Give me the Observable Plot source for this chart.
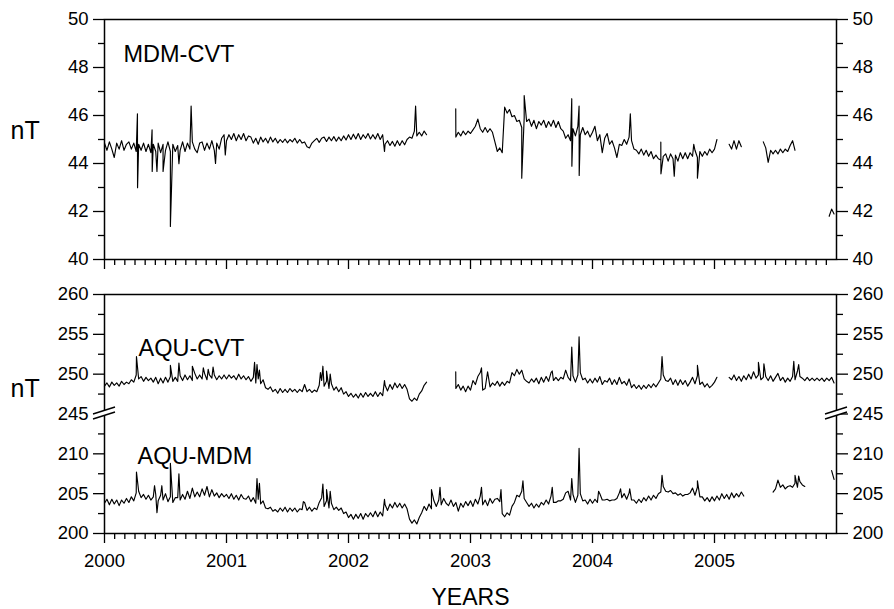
<!DOCTYPE html>
<html><head><meta charset="utf-8">
<script src="https://cdn.jsdelivr.net/npm/d3@7"></script>
<script src="https://cdn.jsdelivr.net/npm/@observablehq/plot@0.6"></script>
<style>
body{margin:0;background:#fff;}
#wrap{position:relative;width:894px;height:609px;overflow:hidden;background:#fff;}
#wrap svg{position:absolute;left:0;}
</style></head><body><div id="wrap"></div>
<script>
// ---- data (decimal years, regular step of 0.02 yr starting 2000.0; null = gap) ----
const START = 2000, STEP = 0.02;
const N = null;
const mdmCvt = [
44.85,44.55,44.9,44.6,44.25,44.85,44.6,44.95,44.55,44.8,
44.9,44.6,44.85,44.5,44.8,44.55,44.85,44.5,44.8,44.45,
44.8,44.5,44.85,44.45,44.8,44.55,44.9,44.5,44.8,44.5,
44.75,44.55,44.9,44.5,44.85,44.6,44.9,44.6,44.45,44.85,
44.9,44.55,44.85,44.6,44.95,44.55,44.85,44.6,45.05,45.2,
44.95,45.2,45.0,45.25,44.95,45.2,45.0,45.25,44.95,45.15,
45.1,44.85,45.05,44.8,45.1,44.9,45.05,44.85,45.1,44.9,
45.05,44.85,45.0,44.88,45.02,44.86,45.0,44.9,45.05,44.85,
45.0,44.85,44.9,44.7,44.65,44.85,44.95,45.05,44.88,45.05,
45.1,44.92,45.1,44.95,45.12,44.93,45.1,44.95,45.15,44.98,
45.2,45.0,45.22,45.02,45.25,45.0,45.2,45.05,45.25,45.02,
45.2,45.02,45.25,45.0,45.2,44.8,44.95,44.75,44.92,44.72,
44.95,44.75,44.95,44.78,45.0,45.1,45.05,45.35,45.15,45.3,
45.15,45.35,45.2,N,N,N,N,N,N,N,
N,N,N,N,45.1,45.3,45.15,45.35,45.2,45.35,
45.25,45.4,45.55,45.85,45.45,45.3,45.5,45.3,45.45,45.3,
44.9,44.5,44.65,44.45,46.35,46.1,46.25,45.95,46.0,45.75,
45.8,45.5,45.9,45.75,45.85,45.55,45.8,45.45,45.75,45.6,
45.8,45.5,45.75,45.55,45.8,45.5,45.75,45.45,45.35,45.05,
45.2,44.95,45.45,45.15,45.55,45.2,45.5,45.2,45.35,45.1,
45.3,45.55,44.95,45.2,44.45,45.05,45.25,44.8,44.95,44.65,
44.25,44.8,44.75,45.0,44.8,45.1,44.95,44.6,44.55,44.4,
44.6,44.35,44.55,44.3,44.5,44.2,44.35,44.2,44.15,44.3,
44.4,44.1,44.4,44.2,44.35,44.1,44.45,44.2,44.45,44.2,
44.45,44.3,44.55,44.25,44.5,44.3,44.5,44.35,44.6,44.45,
44.6,45.0,N,N,N,N,44.8,44.6,44.95,44.6,
44.95,44.7,N,N,N,N,N,N,N,N,
44.9,44.65,44.05,44.55,44.4,44.55,44.4,44.6,44.45,44.6,
44.5,44.75,44.95,44.55,N,N,N,N,N,N,
N,N,N,N,N,N,N,41.8,42.1,41.9
];
const mdmCvtSpikes = [
[2000.27,46.07],[2000.271,42.99],[2000.39,45.4],[2000.391,43.67],[2000.43,43.67],
[2000.48,43.67],[2000.54,41.38],[2000.61,43.99],[2000.71,46.39],[2000.91,44.0],
[2000.99,44.36],[2002.295,44.5],[2002.55,46.39],[2002.879,46.28],[2003.42,43.39],
[2003.44,46.83],[2003.83,46.7],[2003.831,43.89],[2003.89,46.39],[2003.891,43.5],
[2004.31,46.07],[2004.56,44.89],[2004.561,43.57],[2004.67,43.47],[2004.83,44.8],
[2004.86,43.39]
];
const aquCvt = [
248.5,248.9,248.4,249.0,248.6,248.9,248.5,249.1,248.7,249.0,
248.8,249.3,249.0,249.9,249.4,249.7,249.1,249.6,249.2,249.5,
249.0,249.6,248.8,249.5,248.9,249.6,249.0,249.7,249.1,249.6,
249.1,249.8,249.2,249.9,249.3,249.8,249.2,250.1,249.4,249.9,
249.4,250.1,249.3,249.9,249.5,249.9,249.3,249.8,249.4,249.9,
249.4,249.9,249.5,249.8,249.3,250.0,249.4,249.8,249.3,249.7,
249.1,249.6,248.9,249.4,248.8,249.3,248.3,248.1,248.4,247.8,
248.1,247.6,248.2,247.7,248.1,247.7,248.2,247.8,248.1,247.7,
248.1,247.8,248.7,247.8,248.1,247.7,248.0,247.8,248.6,249.2,
248.5,249.1,248.2,248.8,248.0,248.4,247.8,248.3,247.5,247.8,
247.2,247.6,247.1,247.5,247.0,247.6,247.1,247.7,247.2,247.6,
247.2,247.8,247.2,247.7,247.3,248.6,247.9,248.7,248.1,248.9,
248.3,248.8,248.2,248.7,248.1,246.9,246.6,247.0,246.7,247.5,
247.9,248.6,249.0,N,N,N,N,N,N,N,
N,N,N,N,248.2,248.7,248.0,248.5,247.8,248.5,
248.0,249.2,248.7,249.7,250.2,248.0,248.2,250.3,248.4,248.9,
248.6,249.1,248.5,249.0,248.6,249.1,248.9,250.2,249.8,250.6,
250.0,250.5,249.4,249.1,248.9,249.4,249.0,249.5,248.8,249.6,
249.0,249.7,249.1,250.2,249.2,249.6,249.2,249.6,249.4,250.5,
249.6,249.2,249.8,249.0,249.9,250.2,249.3,249.5,248.9,249.4,
248.9,249.5,249.0,249.7,248.7,249.2,249.0,249.5,248.7,249.3,
248.7,249.6,248.8,249.1,248.6,249.4,248.3,248.7,248.2,248.6,
248.1,248.6,248.2,248.7,248.3,248.8,248.4,248.9,249.4,249.9,
249.2,249.1,249.5,248.7,249.3,248.6,249.3,248.7,249.2,248.5,
249.0,249.6,248.8,249.8,248.7,249.0,248.4,248.8,248.3,248.6,
249.0,249.6,N,N,N,N,249.6,249.3,249.9,249.2,
249.7,249.1,249.8,249.3,250.0,249.4,250.3,249.5,249.9,249.3,
249.6,249.7,249.2,249.8,249.1,249.6,250.1,249.2,249.6,249.0,
249.5,249.1,249.7,249.3,250.4,249.7,249.5,249.2,249.6,249.2,
249.5,249.2,249.5,249.2,249.5,249.1,249.5,249.2,249.6,248.9
];
const aquCvtSpikes = [
[2000.262,252.2],[2000.54,251.1],[2000.61,251.4],[2000.72,251.0],[2000.81,250.8],
[2000.85,250.6],[2000.89,250.9],[2001.23,251.5],[2001.25,251.2],[2001.27,250.5],
[2001.77,250.2],[2001.79,251.0],[2001.82,250.4],[2001.85,250.0],[2002.295,249.2],
[2002.879,250.3],[2003.09,250.8],[2003.67,250.4],[2003.83,253.4],[2003.89,254.7],
[2004.57,252.2],[2004.86,251.1],[2005.36,251.5],[2005.405,251.3],[2005.65,251.6],
[2005.69,251.2]
];
const aquMdm = [
203.8,204.3,203.6,204.3,203.7,204.2,203.5,204.2,203.8,204.4,
203.9,204.6,204.1,205.1,205.3,204.5,204.9,204.3,204.8,204.2,
204.6,204.9,204.1,204.8,204.2,205.0,204.0,204.6,203.9,204.5,
204.5,204.2,204.9,204.3,205.3,204.4,205.7,204.6,205.2,204.6,
205.6,204.8,205.9,204.6,205.5,204.7,205.1,204.5,205.0,204.6,
204.9,204.4,205.0,204.3,204.8,204.2,204.9,204.4,204.3,204.7,
204.0,204.5,203.8,204.3,203.7,204.1,203.2,203.1,203.3,202.8,
203.0,202.7,203.2,202.8,203.3,202.7,203.2,202.8,203.2,202.7,
203.1,203.0,203.9,202.9,203.3,202.8,203.2,203.0,203.9,204.5,
203.4,204.1,203.2,203.8,203.0,203.3,202.9,203.2,202.5,202.7,
202.0,202.4,201.8,202.4,201.9,202.5,201.8,202.5,202.1,202.6,
202.1,202.8,202.1,202.7,202.2,203.6,202.9,203.7,203.2,203.9,
203.3,203.8,203.2,203.7,203.1,201.8,201.3,201.7,201.2,202.0,
202.6,203.4,202.9,203.7,203.1,204.1,203.4,204.2,203.6,204.4,
203.8,203.5,204.2,203.4,203.9,202.8,203.8,203.3,204.0,203.5,
204.1,203.4,204.3,203.7,204.7,203.6,204.2,203.5,204.4,203.8,
204.3,204.4,204.0,202.5,202.1,202.6,202.3,203.4,203.9,204.8,
204.6,205.3,204.4,203.9,203.4,203.8,203.2,203.7,203.3,203.9,
203.6,204.2,203.7,204.7,203.9,203.9,204.1,204.1,204.3,205.1,
205.3,204.2,204.9,203.9,204.8,205.0,204.1,204.2,203.7,204.3,
203.8,204.3,203.9,205.0,204.2,204.2,204.3,204.1,204.2,204.2,
204.4,205.1,204.5,205.0,204.3,205.1,204.2,204.2,203.8,204.3,
203.9,204.5,204.1,204.7,204.2,204.8,204.4,205.0,205.2,205.9,
205.3,205.2,205.4,205.0,205.1,204.8,205.0,204.7,204.9,204.9,
205.1,205.7,204.8,205.8,204.6,204.6,204.1,204.5,204.0,204.6,
204.1,204.7,204.2,205.0,204.4,204.9,204.3,205.1,204.5,205.0,
204.6,205.2,204.7,N,N,N,N,N,N,N,
N,N,N,N,205.2,205.6,206.7,205.8,206.1,205.6,
205.9,206.0,205.8,206.3,205.8,206.5,206.1,205.9,N,N,
N,N,N,N,N,N,N,N,207.9,206.8
];
const aquMdmSpikes = [
[2000.262,207.7],[2000.41,206.0],[2000.43,202.6],[2000.47,206.0],[2000.54,208.8],
[2000.61,207.5],[2001.25,206.9],[2001.27,206.3],[2001.63,204.0],[2001.79,206.2],
[2001.82,205.5],[2001.85,205.3],[2002.295,204.3],[2002.68,205.5],[2002.75,205.8],
[2003.09,205.8],[2003.25,205.5],[2003.43,206.6],[2003.67,205.8],[2003.83,206.9],
[2003.89,210.7],[2004.05,205.3],[2004.23,205.6],[2004.305,205.6],[2004.57,207.3],
[2004.86,206.6],[2005.66,207.3],[2005.69,207.2]
];
// tick labels
const yearTicks = [2000, 2001, 2002, 2003, 2004, 2005];
const topTicks = [40, 42, 44, 46, 48, 50];
const topMinor = [41, 43, 45, 47, 49];
const bottomTicks = [200, 205, 210, 245, 250, 255, 260];
const bottomMinor = [202.5, 207.5, 212.5, 247.5, 252.5, 257.5];
const seriesNames = ["MDM-CVT", "AQU-CVT", "AQU-MDM"];

// ---- helpers ----
function build(values, spikes) {
  const rows = values.map((v, i) => ({t: START + i * STEP, v}));
  spikes.forEach(([t, v]) => rows.push({t, v}));
  rows.sort((a, b) => a.t - b.t);
  return rows;
}
const brk = v => (v == null ? null : (v >= 245 ? v - 30 : v));   // axis break 210..245
const unbrk = p => (p >= 215 ? p + 30 : p);
const monthTicks = [];
for (let y = 2000; y < 2006; y++) for (let m = 1; m < 12; m++) monthTicks.push(y + m / 12);

const style = {fontFamily: "'Liberation Sans', Arial, sans-serif", fontSize: "18.5px", color: "#000", background: "transparent", overflow: "visible"};
const common = {width: 894, marginLeft: 104, marginRight: 58, x: {type: "linear", domain: [2000, 2006]}, style};
const tickW = 1.3;
const lineW = 1.15;
function yAxes(major, minor, fmt) {
  const out = [];
  for (const anchor of ["left", "right"]) {
    out.push(Plot.axisY({ticks: major, anchor, tickSize: 11, tickPadding: 5, label: null, strokeWidth: tickW, tickFormat: fmt}));
    out.push(Plot.axisY({ticks: minor, anchor, tickSize: 6, label: null, strokeWidth: tickW, tickFormat: () => ""}));
  }
  return out;
}
function xAxes(showLabels) {
  return [
    Plot.axisX({ticks: yearTicks, anchor: "bottom", tickSize: 10, tickPadding: 10, label: null, strokeWidth: tickW,
      tickFormat: showLabels ? (d => String(d)) : (() => "")}),
    Plot.axisX({ticks: monthTicks, anchor: "bottom", tickSize: 6, label: null, strokeWidth: tickW, tickFormat: () => ""})
  ];
}
const lbl = (s, o) => Plot.text([s], {text: d => d, frameAnchor: "top-left", textAnchor: "start", lineAnchor: "bottom", fill: "#000", ...o});

const wrap = document.getElementById("wrap");

// ---- top panel ----
const topRows = build(mdmCvt, mdmCvtSpikes);
const topPlot = Plot.plot({
  ...common, height: 275, marginTop: 19, marginBottom: 16,
  y: {domain: [40, 50]},
  marks: [
    ...yAxes(topTicks, topMinor, d => String(d)),
    ...xAxes(false),
    Plot.line(topRows, {x: "t", y: "v", stroke: "#000", strokeWidth: lineW}),
    Plot.frame({stroke: "#000", strokeWidth: 1.5}),
    lbl(seriesNames[0], {dx: 19, dy: 42, fontSize: 23.5}),
    lbl("nT", {dx: -94, dy: 119, fontSize: 25})
  ]
});
topPlot.style.top = "0px";
wrap.appendChild(topPlot);

// ---- bottom panel (broken axis) ----
const cvtRows = build(aquCvt, aquCvtSpikes).map(d => ({t: d.t, v: brk(d.v)}));
const mdmRows = build(aquMdm, aquMdmSpikes).map(d => ({t: d.t, v: brk(d.v)}));
const botPlot = Plot.plot({
  ...common, height: 334, marginTop: 19, marginBottom: 76,
  y: {domain: [200, 230]},
  marks: [
    ...yAxes(bottomTicks.map(brk), bottomMinor.map(brk), d => String(unbrk(d))),
    ...xAxes(true),
    Plot.line(cvtRows, {x: "t", y: "v", stroke: "#000", strokeWidth: lineW}),
    Plot.line(mdmRows, {x: "t", y: "v", stroke: "#000", strokeWidth: lineW}),
    Plot.frame({stroke: "#000", strokeWidth: 1.5}),
    lbl(seriesNames[1], {dx: 34, dy: 61, fontSize: 23.5}),
    lbl(seriesNames[2], {dx: 33, dy: 169, fontSize: 23.5}),
    lbl("nT", {dx: -94, dy: 102, fontSize: 25}),
    Plot.text(["YEARS"], {text: d => d, frameAnchor: "bottom", textAnchor: "middle", lineAnchor: "bottom", dy: 71, fontSize: 23, fill: "#000"})
  ]
});
botPlot.style.top = "275px";
wrap.appendChild(botPlot);

// axis-break marks drawn at the library's own scale positions
const ys = botPlot.scale("y"), xs = botPlot.scale("x");
const yb = ys.apply(brk(245));
const g = d3.select(botPlot).append("g");
for (const x0 of [xs.apply(2000), xs.apply(2006)]) {
  g.append("polygon")
    .attr("points", `${x0-11},${yb+0.5} ${x0+11},${yb-6.5} ${x0+11},${yb-1.5} ${x0-11},${yb+5.5}`)
    .attr("fill", "#fff");
  g.append("line").attr("x1", x0-11).attr("y1", yb+0.5).attr("x2", x0+11).attr("y2", yb-6.5)
    .attr("stroke", "#000").attr("stroke-width", 1.4);
  g.append("line").attr("x1", x0-11).attr("y1", yb+5.5).attr("x2", x0+11).attr("y2", yb-1.5)
    .attr("stroke", "#000").attr("stroke-width", 1.4);
}
</script></body></html>
